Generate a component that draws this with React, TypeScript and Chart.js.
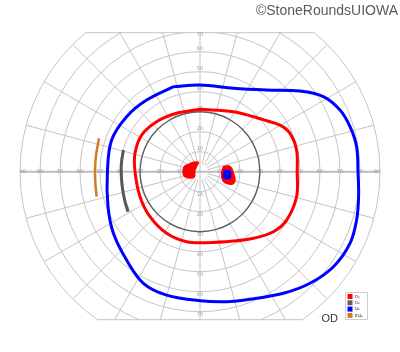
import React, { useEffect, useRef } from "react";
import { Chart, registerables } from "chart.js";

Chart.register(...registerables);

// Grid structure (degrees of visual field)
const ringDegrees = [10, 20, 30, 40, 50, 60, 70, 80, 90];
const meridianAngles = [0, 15, 30, 45, 60, 75, 90, 105, 120, 135, 150, 165, 180, 195, 210, 225, 240, 255, 270, 285, 300, 315, 330, 345];
const horizontalTickLabels = ["10", "20", "30", "40", "50", "60", "70", "80", "90"];
const verticalTickLabels = ["10", "20", "30", "40", "50", "60", "70"];
const fieldTop = 69.5;
const fieldBottom = -74;

// Isopters: [x, y] in degrees (x: right positive, y: up positive)
const isopterI4e: [number, number][] = [
  [-13.3, 42.5], [0, 43.3], [16.7, 41.7], [33.3, 40.8], [50, 40.3], [61.7, 37.5], [70, 30.8],
  [75, 22.5], [78.3, 12.5], [79, 0], [79.3, -12.5], [78.3, -24.2], [75, -35.8], [66.7, -47.5],
  [55, -55.8], [41.7, -60.8], [25, -63.8], [13.3, -65], [0, -64.5], [-16.7, -61.7], [-28.3, -55.8],
  [-36.7, -44.2], [-43.3, -30.8], [-46, -17.5], [-46.3, 0], [-44.2, 15.8], [-36.7, 27.5],
  [-26.7, 35.8], [-13.3, 42.5],
];
const isopterI2e: [number, number][] = [
  [0, 31.2], [16.7, 30], [26.7, 27.5], [33.3, 25.5], [40, 23.3], [45, 19.2], [48.3, 10.8],
  [48.6, 0], [48.3, -12.5], [43.3, -24.2], [36.7, -30], [26.7, -33.3], [16.7, -34.7], [3.3, -35.5],
  [-6.7, -35], [-16.7, -30.8], [-25, -22.5], [-30, -12.5], [-32.5, 0], [-32.5, 9.2], [-29.2, 18.3],
  [-21.7, 25], [-11.7, 29.2], [0, 31.2],
];
// I3e central isopter: eccentricity on each meridian of meridianAngles
const isopterI3eCentral = [30, 30, 30, 30, 30, 30, 30, 30, 30, 30, 30, 30, 30, 30, 30, 30, 30, 30, 30, 30, 30, 30, 30, 30];
const isopterI3eArc: [number, number][] = [
  [-38.3, 10.8], [-39.2, 5], [-39.4, 0], [-38.8, -8], [-37.5, -15], [-36, -20],
];
const isopterIII4eArc: [number, number][] = [
  [-50.5, 16.7], [-52, 8], [-52.5, 0.8], [-52.3, -6], [-51.7, -12.5],
];
const scotomaI2eCentral: [number, number][] = [
  [-0.6, 4.7], [-1.8, 2.5], [-2.6, 0.5], [-2.8, -2.4], [-5, -3.2], [-7.7, -2.4], [-8.5, 0],
  [-7.7, 2.7], [-5, 4], [-2.5, 4.8], [-0.6, 4.7],
];
const scotomaI2eBlind: [number, number][] = [
  [11.7, 2.5], [14.2, 3], [15.8, 1.7], [16.7, -0.8], [17.5, -4.2], [16.3, -6.2], [13.3, -5.8],
  [11.3, -4.2], [10.8, -0.8], [11.7, 2.5],
];
const scotomaI4eBlind: [number, number][] = [
  [12, 0.5], [15, 0.5], [15, -3.2], [12, -3.2], [12, 0.5],
];

const legendLabels = ["I2e", "I3e", "I4e", "III4e"];
const legendColors = ["#ff0000", "#606060", "#0000ff", "#d07a2a"];

const toPts = (arr: [number, number][]) => arr.map(([x, y]) => ({ x, y }));
const polarPts = (angles: number[], ecc: number[]) => {
  const pts = angles.map((a, i) => ({
    x: ecc[i] * Math.cos((a * Math.PI) / 180),
    y: ecc[i] * Math.sin((a * Math.PI) / 180),
  }));
  pts.push(pts[0]);
  return pts;
};

const gridPlugin = {
  id: "goldmannGrid",
  beforeDatasetsDraw(chart: any) {
    const { ctx, scales } = chart;
    const xs = scales.x;
    const ys = scales.y;
    const cx = xs.getPixelForValue(0);
    const cy = ys.getPixelForValue(0);
    const rp = (d: number) => xs.getPixelForValue(d) - cx;
    const topY = ys.getPixelForValue(fieldTop);
    const botY = ys.getPixelForValue(fieldBottom);
    const R = rp(90);
    ctx.save();
    ctx.beginPath();
    ctx.rect(0, topY, chart.width, botY - topY);
    ctx.clip();
    ctx.strokeStyle = "#c4c4c4";
    ctx.lineWidth = 1;
    ringDegrees.forEach((r) => {
      ctx.beginPath();
      ctx.arc(cx, cy, rp(r), 0, Math.PI * 2);
      ctx.stroke();
    });
    meridianAngles.forEach((a) => {
      if (a % 180 === 0) return;
      const t = (a * Math.PI) / 180;
      const r0 = a % 90 === 0 ? 0 : rp(4);
      ctx.beginPath();
      ctx.moveTo(cx + r0 * Math.cos(t), cy - r0 * Math.sin(t));
      ctx.lineTo(cx + R * Math.cos(t), cy - R * Math.sin(t));
      ctx.stroke();
    });
    ctx.restore();
    // top and bottom chords
    ctx.save();
    ctx.strokeStyle = "#c4c4c4";
    ctx.lineWidth = 1;
    [topY, botY].forEach((yy) => {
      const h = Math.sqrt(R * R - (cy - yy) * (cy - yy));
      ctx.beginPath();
      ctx.moveTo(cx - h, yy);
      ctx.lineTo(cx + h, yy);
      ctx.stroke();
    });
    // horizontal axis
    ctx.strokeStyle = "#bdbdbd";
    ctx.lineWidth = 2;
    ctx.beginPath();
    ctx.moveTo(cx - R, cy);
    ctx.lineTo(cx + R, cy);
    ctx.stroke();
    // tick labels
    ctx.fillStyle = "#9a9a9a";
    ctx.font = "5px 'DejaVu Sans'";
    ctx.textAlign = "center";
    ctx.textBaseline = "middle";
    horizontalTickLabels.forEach((lab, i) => {
      const r = ringDegrees[i];
      const inset = r === 90 ? 3 : 0;
      ctx.fillText(lab, cx - rp(r) + inset, cy);
      ctx.fillText(lab, cx + rp(r) - inset, cy);
    });
    verticalTickLabels.forEach((lab, i) => {
      const r = ringDegrees[i];
      let ty = cy - rp(r) - 2.5;
      if (ty < topY + 2) ty = cy - rp(r) + 3;
      ctx.fillText(lab, cx, ty);
      ctx.fillText(lab, cx, cy + rp(r) + 3);
    });
    ctx.restore();
  },
  afterDraw(chart: any) {
    const { ctx } = chart;
    ctx.save();
    // copyright
    ctx.font = "14px 'Liberation Sans'";
    ctx.textAlign = "right";
    ctx.textBaseline = "alphabetic";
    ctx.fillStyle = "#5a5a5a";
    ctx.fillText("\u00a9StoneRoundsUIOWA", 398, 15);
    // OD
    ctx.font = "11px 'Liberation Sans'";
    ctx.textAlign = "left";
    ctx.fillStyle = "#333";
    ctx.fillText("OD", 321.5, 322);
    // legend
    const bx = 345.5, by = 292.5, bw = 22, bh = 27;
    ctx.strokeStyle = "#cfcfcf";
    ctx.lineWidth = 1;
    ctx.strokeRect(bx, by, bw, bh);
    ctx.font = "4.5px 'Liberation Serif'";
    ctx.textBaseline = "middle";
    legendLabels.forEach((lab, i) => {
      const yy = by + 4 + i * 6.3;
      ctx.fillStyle = legendColors[i];
      ctx.fillRect(bx + 2, yy - 2.5, 5, 5);
      ctx.fillStyle = "#444";
      ctx.fillText(lab, bx + 9, yy);
    });
    ctx.restore();
  },
};

export default function App() {
  const canvasRef = useRef<HTMLCanvasElement | null>(null);
  useEffect(() => {
    if (!canvasRef.current) return;
    const line = (data: any, color: string, width: number, order: number, tension = 0.35) => ({
      data,
      borderColor: color,
      borderWidth: width,
      showLine: true,
      pointRadius: 0,
      tension,
      fill: false,
      order,
    });
    const blob = (data: any, color: string, order: number) => ({
      data,
      borderColor: color,
      backgroundColor: color,
      borderWidth: 1.5,
      showLine: true,
      pointRadius: 0,
      tension: 0.3,
      fill: "shape",
      order,
    });
    // higher order is drawn first (underneath)
    const chart = new Chart(canvasRef.current, {
      type: "scatter",
      data: {
        datasets: [
          line(polarPts(meridianAngles, isopterI3eCentral), "#606060", 1.4, 8, 0.4),
          line(toPts(isopterI2e), "#ff0000", 3, 7),
          line(toPts(isopterI4e), "#0000ff", 3, 6),
          line(toPts(isopterI3eArc), "#585858", 3, 5),
          line(toPts(isopterIII4eArc), "#d07a2a", 2.5, 4),
          blob(toPts(scotomaI2eCentral), "#ff0000", 3),
          blob(toPts(scotomaI2eBlind), "#ff0000", 2),
          blob(toPts(scotomaI4eBlind), "#0000ff", 1),
        ] as any,
      },
      options: {
        animation: false,
        responsive: true,
        maintainAspectRatio: false,
        layout: { padding: { left: 16, right: 16, top: 11.7, bottom: 20.3 } },
        scales: {
          x: { type: "linear", min: -92, max: 92, display: false },
          y: { type: "linear", min: -80, max: 80, display: false },
        },
        plugins: { legend: { display: false }, tooltip: { enabled: false } },
        events: [],
      },
      plugins: [gridPlugin],
    });
    return () => chart.destroy();
  }, []);
  return (
    <div style={{ position: "absolute", left: 0, top: 0, width: 400, height: 352, background: "#fff" }}>
      <canvas ref={canvasRef} />
    </div>
  );
}
